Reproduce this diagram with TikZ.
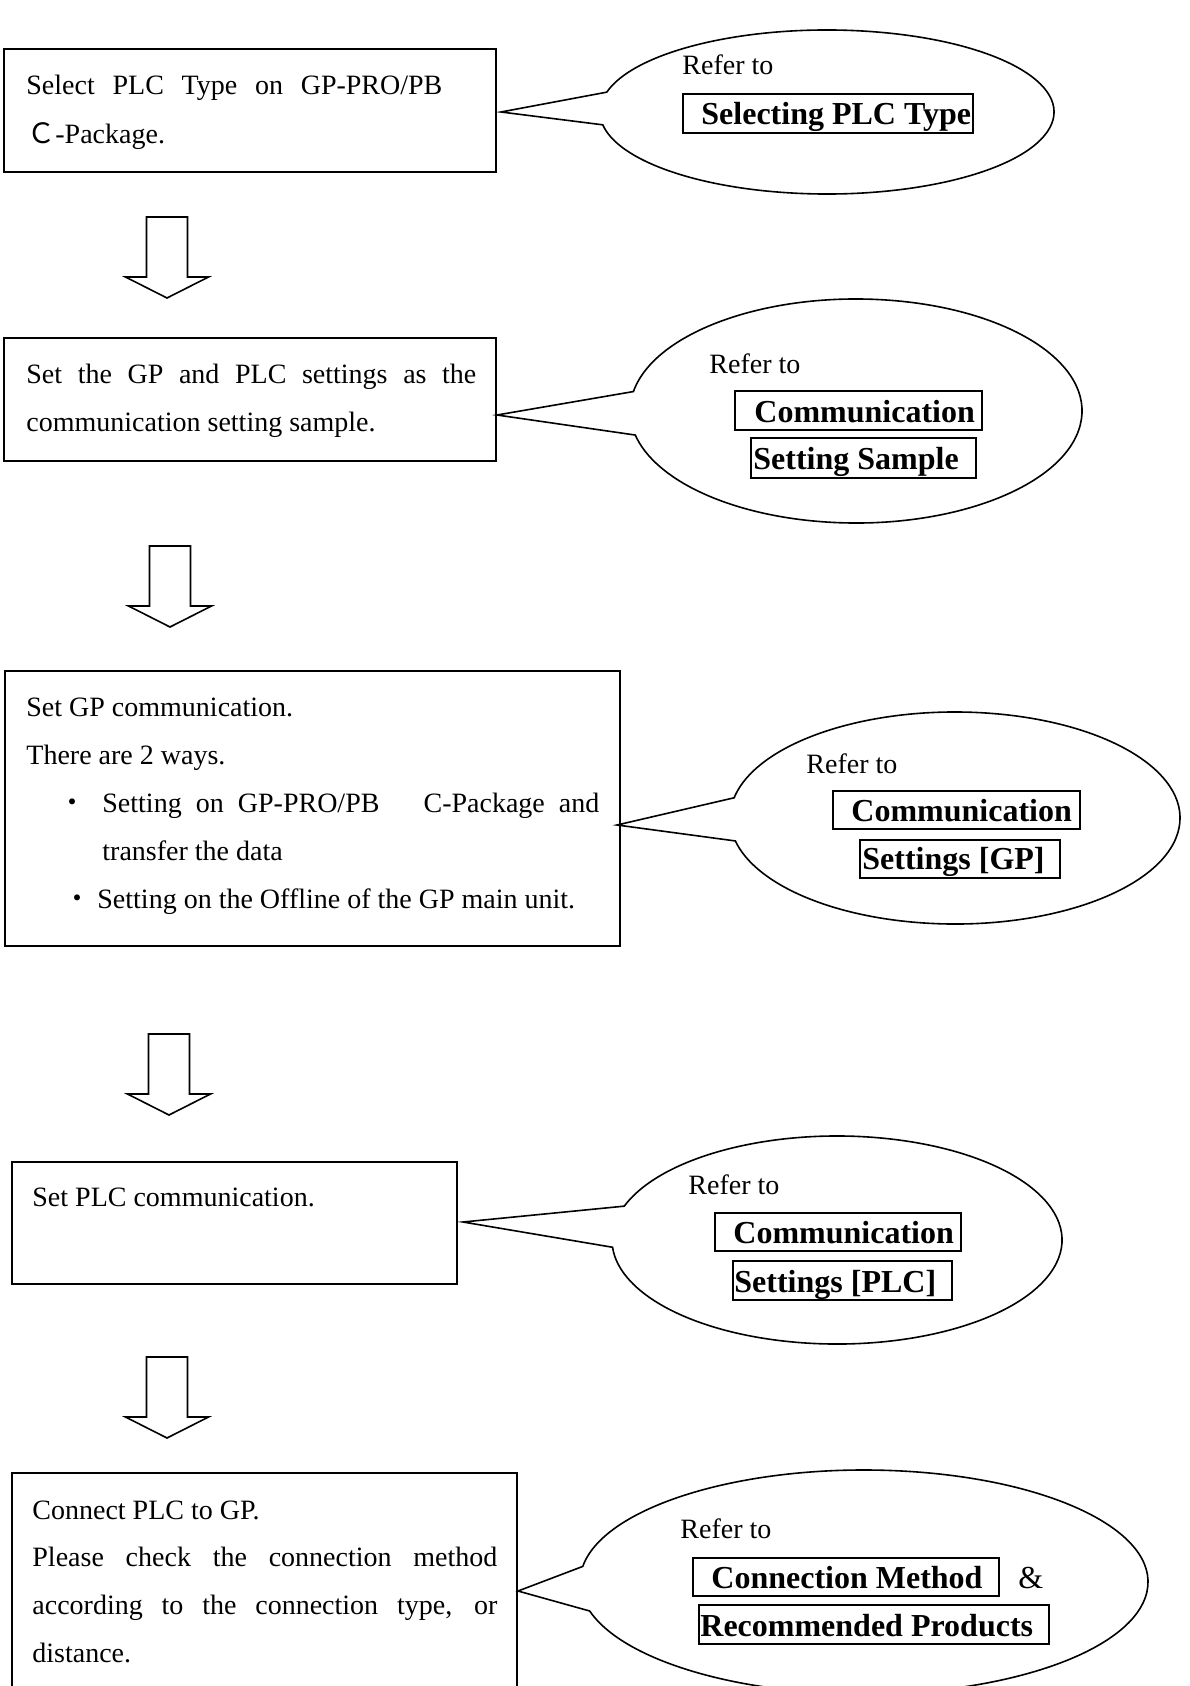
\documentclass[tikz,border=0pt]{standalone}
\usepackage{fontspec}
\setmainfont{Liberation Serif}
\newfontfamily\cjk{Noto Sans CJK JP}
\tikzset{
  stepbox/.style={draw, line width=0.8pt, inner sep=0pt},
  refbox/.style={draw, line width=1pt, inner sep=0pt},
  txt/.style={anchor=base west, inner sep=0pt, font=\fontsize{14}{16}\selectfont},
  bul/.style={anchor=base, inner sep=0pt, font=\fontsize{14}{16}\selectfont\cjk},
  btxt/.style={anchor=base west, inner sep=0pt, font=\fontsize{16}{18}\selectfont\bfseries},
  bubbleline/.style={draw, line width=0.8pt, line join=miter},
  blockarrow/.style={draw, line width=0.8pt, line join=miter, fill=white},
}
\newcommand\mybubble[8]{%
  \coordinate (#1) at (#2,#3);
  \draw[bubbleline] (#8) -- ([shift={(#6:#4 and #5)}]#1)
     arc[start angle=#6, end angle=#7, x radius=#4, y radius=#5] -- cycle;
}
\newcommand\myarrow[3]{%
  \coordinate (#1) at (#2,#3);
  \draw[blockarrow] ([shift={(-20.5,0)}]#1) -- ([shift={(20.5,0)}]#1)
    -- ([shift={(20.5,60)}]#1) -- ([shift={(41.5,60)}]#1)
    -- ([shift={(0,81)}]#1) -- ([shift={(-41.5,60)}]#1)
    -- ([shift={(-20.5,60)}]#1) -- cycle;
}
\begin{document}
\begin{tikzpicture}[x=0.5pt,y=-0.5pt]
\useasboundingbox (0,0) rectangle (1189,1686);

% ---------- main step boxes ----------
\node[stepbox, minimum width=246pt, minimum height=61.5pt] (b1) at (250,110.5) {};
\node[stepbox, minimum width=246pt, minimum height=61.5pt] (b2) at (250,399.5) {};
\node[stepbox, minimum width=307.5pt, minimum height=137.5pt] (b3) at (312.5,808.5) {};
\node[stepbox, minimum width=222.5pt, minimum height=61pt] (b4) at (234.5,1223) {};
\node[stepbox, minimum width=252.5pt, minimum height=118.5pt] (b5) at (264.5,1591.5) {};

% ---------- texts in step boxes ----------
\node[txt] (b1l1) at (26,95) {\makebox[208pt][s]{Select PLC Type on GP-PRO/PB}};
\node[txt] (b1l2) at (27,143) {{\cjk Ｃ}-Package.};

\node[txt] (b2l1) at (26,383) {\makebox[225pt][s]{Set the GP and PLC settings as the}};
\node[txt] (b2l2) at (26,431) {communication setting sample.};

\node[txt] (b3l1) at (26,716) {Set GP communication.};
\node[txt] (b3l2) at (26,764) {There are 2 ways.};
\node[bul] (b3d1) at (72,812) {・};
\node[txt] (b3l3) at (102,812) {\makebox[248.5pt][s]{Setting on GP-PRO/PB\hspace{15pt} C-Package and}};
\node[txt] (b3l4) at (102,860) {transfer the data};
\node[bul] (b3d2) at (77,908) {・};
\node[txt] (b3l5) at (97,908) {Setting on the Offline of the GP main unit.};

\node[txt] (b4l1) at (32,1206) {Set PLC communication.};

\node[txt] (b5l1) at (32,1519) {Connect PLC to GP.};
\node[txt] (b5l2) at (32,1566) {\makebox[232.5pt][s]{Please check the connection method}};
\node[txt] (b5l3) at (32,1614) {\makebox[232.5pt][s]{according to the connection type, or}};
\node[txt] (b5l4) at (32,1662) {distance.};

% ---------- block arrows ----------
\myarrow{a1}{167}{217}
\myarrow{a2}{170}{546}
\myarrow{a3}{169}{1034}
\myarrow{a4}{167}{1357}

% ---------- callouts ----------
\coordinate (t1) at (501,112);
\coordinate (t2) at (497,415);
\coordinate (t3) at (617,825);
\coordinate (t4) at (463,1222);
\coordinate (t5) at (518,1591);

\mybubble{e1}{827}{112}{227}{82}{194}{531}{t1}
\mybubble{e2}{856}{411}{226}{112}{190}{527.6}{t2}
\mybubble{e3}{955}{818}{225}{106}{191}{527.5}{t3}
\mybubble{e4}{837}{1240}{225}{104}{199}{536}{t4}
\mybubble{e5}{864}{1582}{284}{112}{188}{525}{t5}

% ---------- callout contents ----------
\node[txt] (r1) at (682,75) {Refer to};
\node[refbox, minimum width=145pt, minimum height=19.5pt] (k1) at (828,113.5) {};
\node[btxt] (k1t) at (701,125) {Selecting PLC Type};

\node[txt] (r2) at (709,373) {Refer to};
\node[refbox, minimum width=123.5pt, minimum height=19.5pt] (k2a) at (858.5,410.5) {};
\node[btxt] (k2at) at (754,422) {Communication};
\node[refbox, minimum width=112.5pt, minimum height=20pt] (k2b) at (863.5,458) {};
\node[btxt] (k2bt) at (753,469) {Setting Sample};

\node[txt] (r3) at (806,773) {Refer to};
\node[refbox, minimum width=123.5pt, minimum height=19pt] (k3a) at (956.5,810) {};
\node[btxt] (k3at) at (851,821) {Communication};
\node[refbox, minimum width=100pt, minimum height=19pt] (k3b) at (960,859) {};
\node[btxt] (k3bt) at (862,869) {Settings [GP]};

\node[txt] (r4) at (688,1194) {Refer to};
\node[refbox, minimum width=123pt, minimum height=19pt] (k4a) at (838,1232) {};
\node[btxt] (k4at) at (733,1243) {Communication};
\node[refbox, minimum width=109.5pt, minimum height=19.5pt] (k4b) at (842.5,1280.5) {};
\node[btxt] (k4bt) at (734,1292) {Settings [PLC]};

\node[txt] (r5) at (680,1538) {Refer to};
\node[refbox, minimum width=153pt, minimum height=19pt] (k5a) at (846,1577) {};
\node[btxt] (k5at) at (711,1588) {Connection Method};
\node[txt, font=\fontsize{16}{18}\selectfont] (amp) at (1018,1588) {\&};
\node[refbox, minimum width=175pt, minimum height=19.5pt] (k5b) at (874,1624.5) {};
\node[btxt] (k5bt) at (700,1636) {Recommended Products};
\end{tikzpicture}
\end{document}
